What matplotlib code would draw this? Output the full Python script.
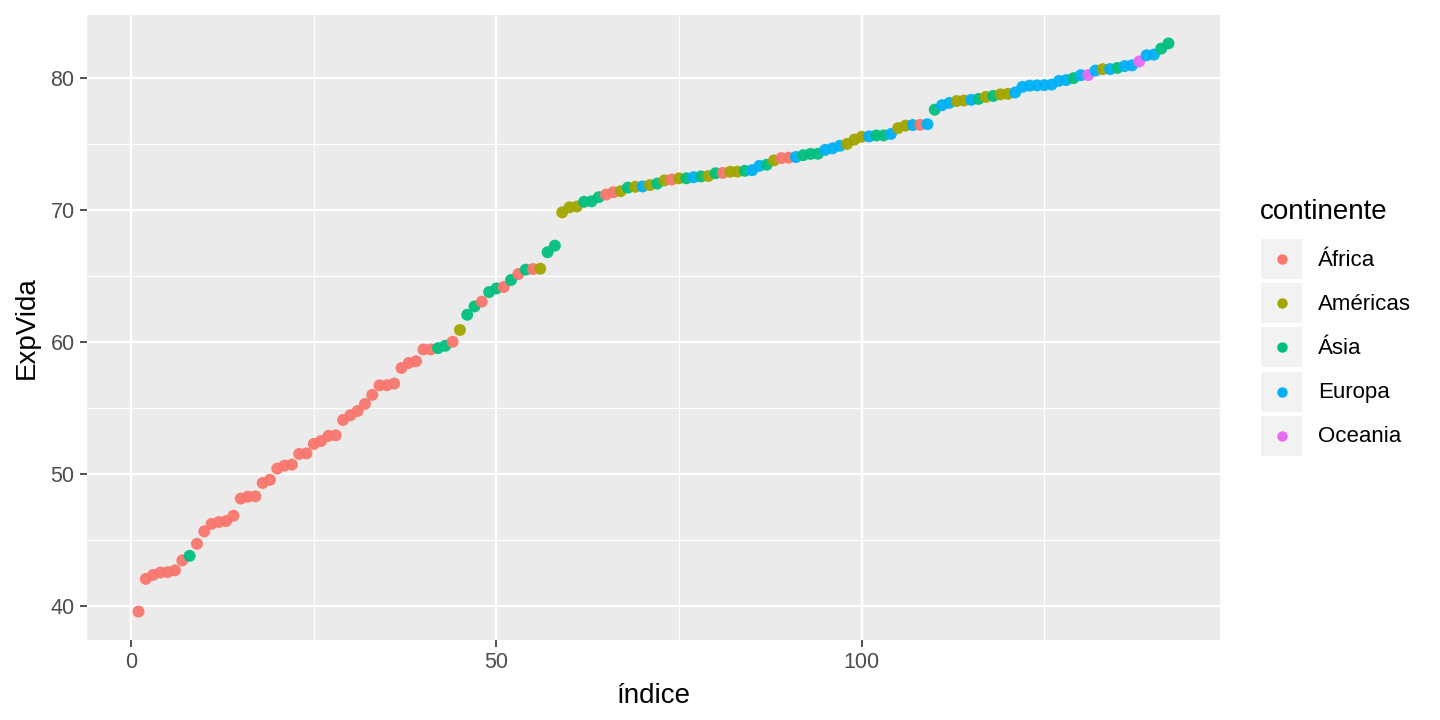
import numpy as np
import matplotlib
matplotlib.use("Agg")
import matplotlib.pyplot as plt
from matplotlib.patches import Rectangle

plt.rcParams['font.family'] = ['Liberation Sans', 'DejaVu Sans']

# gapminder 2007, esperanca de vida por continente
africa = [72.301, 42.731, 56.728, 50.728, 52.295, 49.580, 50.430, 44.741, 50.651,
          65.152, 46.462, 55.322, 48.328, 54.791, 71.338, 51.579, 58.040, 52.947,
          56.735, 59.448, 60.022, 56.007, 46.388, 54.110, 42.592, 45.678, 73.952,
          59.443, 48.303, 54.467, 64.164, 72.801, 71.164, 42.082, 52.906, 56.867,
          46.859, 76.442, 46.242, 65.528, 63.062, 42.568, 48.159, 49.339, 58.556,
          39.613, 52.517, 58.420, 73.923, 51.542, 42.384, 43.487]
americas = [75.320, 65.554, 72.390, 80.653, 78.553, 72.889, 78.782, 78.273, 72.235,
            74.994, 71.878, 70.259, 60.916, 70.198, 72.567, 76.195, 72.899, 75.537,
            71.752, 71.421, 78.746, 69.819, 78.242, 76.384, 73.747]
asia = [43.828, 75.635, 64.062, 59.723, 72.961, 82.208, 64.698, 70.650, 70.964,
        59.545, 80.745, 82.603, 72.535, 67.297, 78.623, 77.588, 71.993, 74.241,
        66.803, 62.069, 63.785, 75.640, 65.483, 71.688, 72.777, 79.972, 72.396,
        74.143, 78.400, 70.616, 74.249, 73.422, 62.698]
europa = [76.423, 79.829, 79.441, 74.852, 73.005, 75.748, 76.486, 78.332, 79.313,
          80.657, 79.406, 79.483, 73.338, 81.757, 78.885, 80.546, 74.543, 79.762,
          80.196, 75.563, 78.098, 72.476, 74.002, 74.663, 77.926, 80.941, 80.884,
          81.701, 71.777, 79.425]
oceania = [81.235, 80.204]

continentes = ['África', 'Américas', 'Ásia', 'Europa', 'Oceania']
cores = ['#F8766D', '#A3A500', '#00BF7D', '#00B0F6', '#E76BF3']

vals = np.concatenate([africa, americas, asia, europa, oceania])
grupo = np.concatenate([np.full(len(g), i) for i, g in
                        enumerate([africa, americas, asia, europa, oceania])])
ordem = np.argsort(vals, kind='stable')
vals = vals[ordem]
grupo = grupo[ordem]
indice = np.arange(1, len(vals) + 1)

fig = plt.figure(figsize=(14.4, 7.2), dpi=100)
ax = fig.add_axes([87/1440, 80/720, (1220-87)/1440, (640-15)/720])
ax.set_facecolor('#EBEBEB')
for s in ax.spines.values():
    s.set_visible(False)

ax.scatter(indice, vals, c=[cores[g] for g in grupo], s=74, linewidths=0,
           alpha=0.95, zorder=3)

ax.set_xlim(-6.05, 149.05)
ax.set_ylim(37.46, 84.75)
ax.set_xticks([0, 50, 100])
ax.set_xticks([25, 75, 125], minor=True)
ax.set_yticks([40, 50, 60, 70, 80])
ax.set_yticks([45, 55, 65, 75], minor=True)
ax.grid(which='major', color='white', linewidth=1.6, zorder=0)
ax.grid(which='minor', color='white', linewidth=0.8, zorder=0)
ax.set_axisbelow(True)
ax.tick_params(which='major', length=5, width=1.2, color='#333333',
               labelcolor='#4D4D4D', labelsize=15.5, pad=4)
ax.tick_params(which='minor', length=0)
ax.set_xlabel('índice', fontsize=20, labelpad=7)
ax.set_ylabel('ExpVida', fontsize=20, labelpad=8)

# legenda estilo ggplot
fig.text(1260/1440, 1 - 212/720, 'continente', fontsize=20, va='center', ha='left')
for i, (nome, cor) in enumerate(zip(continentes, cores)):
    y0 = 239 + i * 44.2
    fig.add_artist(Rectangle((1261/1440, 1 - (y0 + 40)/720), 41/1440, 40/720,
                             transform=fig.transFigure, facecolor='#F2F2F2',
                             edgecolor='none'))
    fig.add_artist(plt.Line2D([1281.5/1440], [1 - (y0 + 20)/720], marker='o',
                              markersize=7.5, color=cor, markeredgewidth=0,
                              transform=fig.transFigure))
    fig.text(1318/1440, 1 - (y0 + 21)/720, nome, fontsize=16, va='center', ha='left')

fig.savefig('out.png', dpi=100)
